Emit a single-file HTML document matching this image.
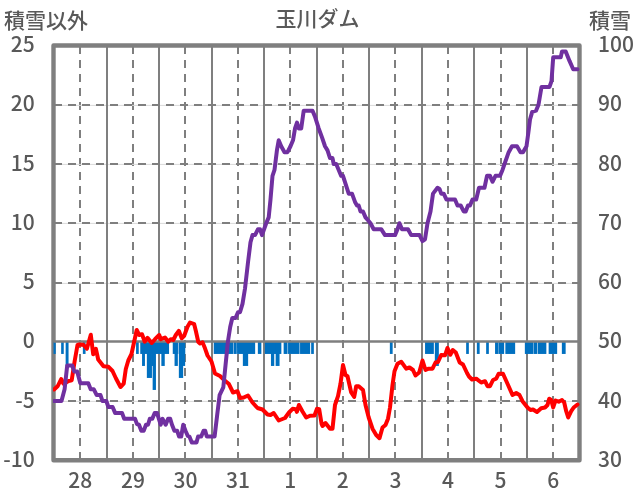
<!DOCTYPE html>
<html lang="ja"><head><meta charset="utf-8"><title>玉川ダム</title>
<style>
html,body{margin:0;padding:0;background:#fff;}
body{width:636px;height:501px;overflow:hidden;}
svg{display:block;}
text{font-family:"Noto Sans CJK JP","Liberation Sans",sans-serif;fill:#595959;font-weight:500;}
.jp{font-family:"Noto Sans CJK JP","Liberation Sans",sans-serif;}
</style></head><body>
<svg width="636" height="501" viewBox="0 0 636 501">
<defs><clipPath id="pc"><rect x="53" y="43" width="528" height="420"/></clipPath></defs>
<rect x="0" y="0" width="636" height="501" fill="#fff"/>

<rect x="53.5" y="45.5" width="526" height="414.8" fill="none" stroke="#7f7f7f" stroke-width="4.4" stroke-linejoin="round"/>
<g stroke="#7f7f7f" stroke-width="2" fill="none">
<line x1="80" y1="45.5" x2="80" y2="460.3" stroke-dasharray="8 6" stroke-dashoffset="-0.5"/>
<line x1="133" y1="45.5" x2="133" y2="460.3" stroke-dasharray="8 6" stroke-dashoffset="-0.5"/>
<line x1="185" y1="45.5" x2="185" y2="460.3" stroke-dasharray="8 6" stroke-dashoffset="-0.5"/>
<line x1="238" y1="45.5" x2="238" y2="460.3" stroke-dasharray="8 6" stroke-dashoffset="-0.5"/>
<line x1="290" y1="45.5" x2="290" y2="460.3" stroke-dasharray="8 6" stroke-dashoffset="-0.5"/>
<line x1="343" y1="45.5" x2="343" y2="460.3" stroke-dasharray="8 6" stroke-dashoffset="-0.5"/>
<line x1="395" y1="45.5" x2="395" y2="460.3" stroke-dasharray="8 6" stroke-dashoffset="-0.5"/>
<line x1="448" y1="45.5" x2="448" y2="460.3" stroke-dasharray="8 6" stroke-dashoffset="-0.5"/>
<line x1="501" y1="45.5" x2="501" y2="460.3" stroke-dasharray="8 6" stroke-dashoffset="-0.5"/>
<line x1="553" y1="45.5" x2="553" y2="460.3" stroke-dasharray="8 6" stroke-dashoffset="-0.5"/>
<line x1="55.5" y1="105.4" x2="577.5" y2="105.4" stroke="#d9d9d9" stroke-width="1"/>
<line x1="53.5" y1="105" x2="579.5" y2="105" stroke-dasharray="8 6" stroke-dashoffset="-0.5"/>
<line x1="55.5" y1="164.4" x2="577.5" y2="164.4" stroke="#d9d9d9" stroke-width="1"/>
<line x1="53.5" y1="164" x2="579.5" y2="164" stroke-dasharray="8 6" stroke-dashoffset="-0.5"/>
<line x1="55.5" y1="223.4" x2="577.5" y2="223.4" stroke="#d9d9d9" stroke-width="1"/>
<line x1="53.5" y1="223" x2="579.5" y2="223" stroke-dasharray="8 6" stroke-dashoffset="-0.5"/>
<line x1="55.5" y1="283.4" x2="577.5" y2="283.4" stroke="#d9d9d9" stroke-width="1"/>
<line x1="53.5" y1="283" x2="579.5" y2="283" stroke-dasharray="8 6" stroke-dashoffset="-0.5"/>
<line x1="55.5" y1="401.4" x2="577.5" y2="401.4" stroke="#d9d9d9" stroke-width="1"/>
<line x1="53.5" y1="401" x2="579.5" y2="401" stroke-dasharray="8 6" stroke-dashoffset="-0.5"/>
<line x1="107" y1="45.5" x2="107" y2="460.3"/>
<line x1="159" y1="45.5" x2="159" y2="460.3"/>
<line x1="212" y1="45.5" x2="212" y2="460.3"/>
<line x1="264" y1="45.5" x2="264" y2="460.3"/>
<line x1="317" y1="45.5" x2="317" y2="460.3"/>
<line x1="369" y1="45.5" x2="369" y2="460.3"/>
<line x1="422" y1="45.5" x2="422" y2="460.3"/>
<line x1="474" y1="45.5" x2="474" y2="460.3"/>
<line x1="527" y1="45.5" x2="527" y2="460.3"/>
</g>
<g fill="#0070c0">
<rect x="53.55" y="341.79" width="2.2" height="12.16"/>
<rect x="61.15" y="341.79" width="2.6" height="12.16"/>
<rect x="65.65" y="341.79" width="2.9" height="24.16"/>
<rect x="82.85" y="341.79" width="2.7" height="12.16"/>
<rect x="136.05" y="341.79" width="2.7" height="12.16"/>
<rect x="140.25" y="341.79" width="28.8" height="12.16"/>
<rect x="142.05" y="341.79" width="2.9" height="24.16"/>
<rect x="146.85" y="341.79" width="5.1" height="36.16"/>
<rect x="151.25" y="341.79" width="2.1" height="24.16"/>
<rect x="152.65" y="341.79" width="3.3" height="48.16"/>
<rect x="161.35" y="341.79" width="3.4" height="24.16"/>
<rect x="172.75" y="341.79" width="5.1" height="12.16"/>
<rect x="178.65" y="341.79" width="6.5" height="12.16"/>
<rect x="174.55" y="341.79" width="3.3" height="24.16"/>
<rect x="178.85" y="341.79" width="4.3" height="36.16"/>
<rect x="182.85" y="341.79" width="2.3" height="24.16"/>
<rect x="213.75" y="341.79" width="19.7" height="12.16"/>
<rect x="233.85" y="341.79" width="2.9" height="12.16"/>
<rect x="237.05" y="341.79" width="18.1" height="12.16"/>
<rect x="242.85" y="341.79" width="5.3" height="24.16"/>
<rect x="257.85" y="341.79" width="3.5" height="12.16"/>
<rect x="264.85" y="341.79" width="16.5" height="12.16"/>
<rect x="270.95" y="341.79" width="3.3" height="24.16"/>
<rect x="275.65" y="341.79" width="3.9" height="24.16"/>
<rect x="283.65" y="341.79" width="3.9" height="12.16"/>
<rect x="288.05" y="341.79" width="11.5" height="12.16"/>
<rect x="300.05" y="341.79" width="10.1" height="12.16"/>
<rect x="311.15" y="341.79" width="2.7" height="12.16"/>
<rect x="389.85" y="341.79" width="2.8" height="12.16"/>
<rect x="425.05" y="341.79" width="8.8" height="12.16"/>
<rect x="434.85" y="341.79" width="4" height="24.16"/>
<rect x="466.15" y="341.79" width="2.7" height="12.16"/>
<rect x="476.85" y="341.79" width="2.8" height="12.16"/>
<rect x="486.15" y="341.79" width="2.7" height="12.16"/>
<rect x="495.05" y="341.79" width="3.2" height="12.16"/>
<rect x="498.45" y="341.79" width="5.7" height="12.16"/>
<rect x="505.35" y="341.79" width="9.8" height="12.16"/>
<rect x="524.85" y="341.79" width="8.4" height="12.16"/>
<rect x="533.55" y="341.79" width="3.7" height="12.16"/>
<rect x="537.75" y="341.79" width="8.6" height="12.16"/>
<rect x="548.65" y="341.79" width="8.5" height="12.16"/>
<rect x="561.85" y="341.79" width="3.8" height="12.16"/>
</g>
<line x1="53.5" y1="341.49" x2="579.5" y2="341.49" stroke="#7f7f7f" stroke-width="2.5"/>
<polyline clip-path="url(#pc)" points="54.1,389.5 57.8,386 61.2,379 63.4,383.5 66,382.5 68.5,381 71.7,380.2 74.6,361.5 77.5,345 78.6,344.4 83.4,344.8 86.9,348.8 90.8,334.8 93.2,354.3 95.9,348.8 98.2,359.5 103.5,366.3 108.5,366.8 112.5,371 116,378.5 120.5,387 123.7,383.7 125.8,369 128.3,360.5 131.5,354 136.7,330 139.2,335 142,334.2 144.8,341.7 147.5,337.8 151.7,343 155,339.2 159.2,335 160.8,339.2 165,337.5 168.3,341.7 170.8,339.2 173.3,340 175.8,335 178.8,330.8 181.7,338.3 184.2,335.8 187.5,326.7 190,322.5 194.2,324.2 195.8,330.8 198.3,342 200,343.5 202.5,342.3 205,348.3 207.5,355.5 211.5,361.5 215,373.5 220,376 225,380.8 228.7,383.7 233,392.5 237.5,391.2 240,398 243.7,397.5 248,395.5 252.5,402.5 257.5,408 262.5,409.5 267.5,414.5 270.5,415 273.7,413 278.7,420.5 285,418 289,412.5 292.6,408.8 295.6,409.2 296.9,411.8 298.9,405 302.5,411.5 306.2,417.5 310,415.7 314.5,415.5 317,408.7 319.2,409.2 321.6,424 322.5,426 325.5,423 330,428.7 332.5,428.7 335,405 338,396.2 340.5,383.7 343,365 345.5,375 347.5,376.2 351.2,392.5 354.2,397 356.2,386.2 358.7,386.2 363,390 365.5,405 368.7,417.5 372.5,428.7 376.2,435 379.5,438.2 382.5,427.5 385.5,425 388,418.7 390,407.5 392.5,385 394.5,371.2 397.5,363.7 401.2,361.7 406.2,368.7 409.5,367.5 413,370 415.5,375.5 419.2,372.5 422.5,360.5 425.5,370 428.7,368.7 432.5,368.7 435.5,362.5 438,362 441.2,355 445,355.3 447.5,348 450.3,354.8 452.8,350 455.8,352.5 459.7,362.5 463,364.5 467,373 469,376.5 472,379.5 476.2,378.7 481.2,382.5 485,381.2 487.5,386.2 490,386.2 493,380 496.2,378.7 498.7,373.7 503,373.7 507.5,383.7 512.5,395 516.2,393 519.5,395 522.5,401.2 527.5,407.5 530.5,410 533,409.5 537,412 541.2,408.2 545,407.5 547.5,405 549.2,398.7 551.2,400 553.2,407.5 555.5,400.5 558.7,401.7 562,400 564.2,402.5 566.2,411.2 568.2,417.5 571.2,411.2 573.7,407.5 577.5,404.5" fill="none" stroke="#ff0000" stroke-width="4" stroke-linejoin="round" stroke-linecap="round"/>
<polyline clip-path="url(#pc)" points="54.1,401.04 61.5,401.04 64.6,389.19 67.2,365.49 72.2,365.49 74.2,371.41 77.2,371.41 80.3,383.27 88.3,383.27 90.7,389.19 93.7,389.19 96.7,395.12 100.5,395.12 102.5,401.04 106.3,401.04 108.4,406.97 112.6,406.97 115.1,412.89 122,412.89 124.2,418.82 135,418.82 137,424.15 139,424.75 141.3,430.67 143.7,430.67 146,424.75 148,424.75 149.8,418.82 152.3,418.82 154.7,412.89 157,412.89 160.7,424.75 162.6,418.82 165.7,424.75 168.1,418.82 170.2,418.82 172,424.75 174.4,430.67 177.1,430.67 179.1,436.6 181.2,436.6 183.2,424.75 185.5,430.67 187.8,436 189.4,436.6 191.8,442.52 196.5,442.52 198.1,436.6 201.2,436.6 203.6,430.67 205.2,430.67 206.8,436.6 214.6,436.6 217,416.45 219.6,395.12 223.3,387.41 225.5,365.49 227.9,341.79 230.2,326.97 232.3,318.08 235.5,318.08 238,312.16 240,312.16 242.5,303.86 245,288.45 248,262.38 250.5,242.23 252.5,235.12 255,235.12 258,229.2 260,229.2 262,235.12 266.2,223.27 268.7,217.35 270.5,199.57 272.5,175.87 274.5,169.94 277,149.79 278.7,140.31 281.2,146.24 284.5,152.16 287.5,152.16 290.5,146.24 293,140.31 295,128.46 297,122.53 298.7,128.46 301.2,128.46 303.7,110.68 312.5,110.68 315,116.61 318.7,128.46 322,137.35 325,146.24 327.5,150.39 330,158.09 332.5,158.09 333.7,164.01 336.2,164.01 338.7,169.94 341.2,175.87 343,175.87 346.2,185.94 348.7,193.64 352,193.64 355,201.94 357,205.49 358.7,205.49 360.5,211.42 363,211.42 365.5,217.35 368,220.31 370.5,223.27 373.7,229.2 381.2,229.2 385,235.12 395,235.12 397.5,229.2 399.5,223.27 402,229.2 408,229.2 411.2,235.12 419.5,235.12 422.5,241.05 425,239.27 427.5,223.27 430.5,211.42 433,193.64 437.5,187.72 439.5,188.9 441.2,193.64 443.7,193.64 446.5,199.57 455,199.57 457.5,205.49 460.7,205.49 463.7,211.42 465.7,211.42 468,205.49 470,205.49 472.5,199.57 476.2,199.57 479,187.72 484.5,187.72 487,175.87 490,175.87 492.5,181.79 495.5,175.87 500,175.87 502.5,169.94 505.5,161.05 508.7,152.16 512,146.24 517,146.24 520.5,152.16 523,152.16 526.5,146.24 528.5,131.42 530,119.57 532.2,111.87 536,110.68 538.5,104.76 541.5,86.98 549.5,86.98 551.5,81.05 553.2,57.35 560.7,57.35 562,51.43 565.7,51.43 569.5,60.91 573.2,69.2 577.5,69.2" fill="none" stroke="#7030a0" stroke-width="4" stroke-linejoin="round" stroke-linecap="round"/>
<g font-size="21">
<text x="34.8" y="52" text-anchor="end">25</text>
<text x="34.8" y="111.26" text-anchor="end">20</text>
<text x="34.8" y="170.51" text-anchor="end">15</text>
<text x="34.8" y="229.77" text-anchor="end">10</text>
<text x="34.8" y="289.03" text-anchor="end">5</text>
<text x="34.8" y="348.29" text-anchor="end">0</text>
<text x="34.8" y="407.54" text-anchor="end">-5</text>
<text x="34.8" y="466.8" text-anchor="end">-10</text>
<text x="598" y="466.8">30</text>
<text x="598" y="407.54">40</text>
<text x="598" y="348.29">50</text>
<text x="598" y="289.03">60</text>
<text x="598" y="229.77">70</text>
<text x="598" y="170.51">80</text>
<text x="598" y="111.26">90</text>
<text x="598" y="52">100</text>
<text x="80.3" y="487.5" text-anchor="middle">28</text>
<text x="132.9" y="487.5" text-anchor="middle">29</text>
<text x="185.5" y="487.5" text-anchor="middle">30</text>
<text x="238.1" y="487.5" text-anchor="middle">31</text>
<text x="290.2" y="487.5" text-anchor="middle">1</text>
<text x="342.8" y="487.5" text-anchor="middle">2</text>
<text x="395.4" y="487.5" text-anchor="middle">3</text>
<text x="448" y="487.5" text-anchor="middle">4</text>
<text x="500.6" y="487.5" text-anchor="middle">5</text>
<text x="553.2" y="487.5" text-anchor="middle">6</text>
<text class="jp" x="4" y="27.5">積雪以外</text>
<text class="jp" x="317.6" y="26" text-anchor="middle">玉川ダム</text>
<text class="jp" x="589" y="27.5">積雪</text>
</g>
</svg>
</body></html>
